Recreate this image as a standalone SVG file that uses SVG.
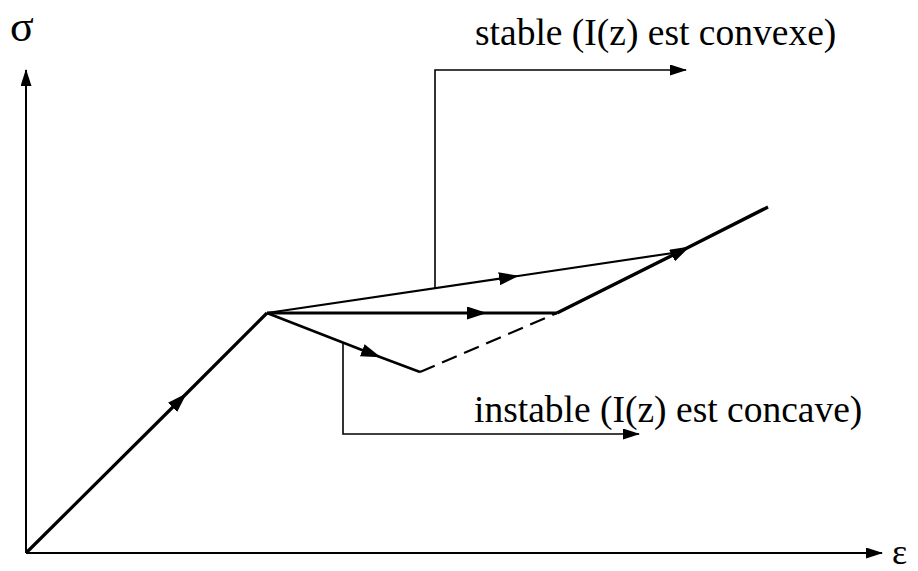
<svg xmlns="http://www.w3.org/2000/svg" width="918" height="571" viewBox="0 0 918 571">
<style>
.ln{fill:none;stroke:#000;stroke-linejoin:miter;stroke-linecap:butt}
.t{font-family:"Liberation Serif","Times New Roman",serif;fill:#000}
</style>
<defs>
<marker id="ah" markerUnits="userSpaceOnUse" markerWidth="20" markerHeight="13" refX="19" refY="6.5" orient="auto" viewBox="0 0 20 13">
<path d="M0,0 L20,6.5 L0,13 z" fill="#000"/>
</marker>
<marker id="ahs" markerUnits="userSpaceOnUse" markerWidth="17" markerHeight="11" refX="16" refY="5.5" orient="auto" viewBox="0 0 17 11">
<path d="M0,0 L17,5.5 L0,11 z" fill="#000"/>
</marker>
</defs>
<g id="axes">
<path class="ln" d="M26,553 L26,70" stroke-width="2" marker-end="url(#ahs)"/>
<path class="ln" d="M26,553 L882,553" stroke-width="2" marker-end="url(#ahs)"/>
<text id="sigma" class="t" x="10" y="41" font-size="44">σ</text>
<text id="epsilon" class="t" x="892" y="564" font-size="36">ε</text>
</g>
<g id="connectors">
<path id="elastic" class="ln" d="M26,553 L186,394 L267,313" stroke-width="3.2" marker-mid="url(#ah)"/>
<path id="upper" class="ln" d="M267,313 L518,276 L673,253" stroke-width="2.2" marker-mid="url(#ah)"/>
<path id="middle" class="ln" d="M267,313 L486,313 L557,313" stroke-width="3.2" marker-mid="url(#ah)"/>
<path id="hardening" class="ln" d="M557,313 L689,247 L768,207" stroke-width="3.4" marker-mid="url(#ah)"/>
<path id="lower" class="ln" d="M267,313 L380,357 L420,372" stroke-width="2.6" marker-mid="url(#ah)"/>
<path id="dashed" class="ln" d="M420,372 L557,313" stroke-width="2.2" stroke-dasharray="16 8"/>
<path id="leader-stable" class="ln" d="M435,288 L435,70 L686,70" stroke-width="1.6" marker-end="url(#ahs)"/>
<path id="leader-instable" class="ln" d="M343,342 L343,434 L639,434" stroke-width="1.6" marker-end="url(#ahs)"/>
</g>
<g id="label-stable">
<text class="t" x="475" y="45" font-size="37.5">stable (I(z) est convexe)</text>
</g>
<g id="label-instable">
<text class="t" x="474" y="422" font-size="37.5">instable (I(z) est concave)</text>
</g>
</svg>
